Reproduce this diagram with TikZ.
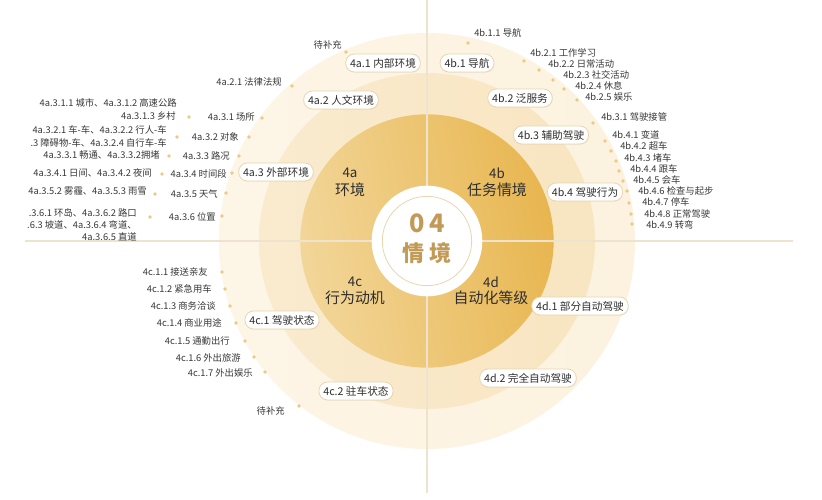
\documentclass[tikz,border=0pt]{standalone}
\usepackage{fontspec}
\setmainfont{Noto Sans CJK SC}
\usetikzlibrary{shadows}
\definecolor{outerband}{HTML}{FDF5E6}
\definecolor{outerbandR}{HTML}{FCF2DF}
\definecolor{midband}{HTML}{FAEBCF}
\definecolor{midbandR}{HTML}{F8E5C1}
\definecolor{goldL}{HTML}{F2D699}
\definecolor{goldR}{HTML}{E8B650}
\definecolor{axisc}{HTML}{EEE3CF}
\definecolor{dotc}{HTML}{E9CB84}
\definecolor{leaftxt}{HTML}{383838}
\definecolor{pillborder}{HTML}{E6D7B2}
\definecolor{pilltxt}{HTML}{2E2E2E}
\definecolor{centretxt}{HTML}{C29A55}
\definecolor{thinring}{HTML}{E9D6AE}
\begin{document}
\begin{tikzpicture}[x=0.75pt,y=-0.75pt,
  leafR/.style={anchor=east, font=\fontsize{7}{9}\selectfont, text=leaftxt, inner sep=0pt, align=right},
  leafL/.style={anchor=west, font=\fontsize{7}{9}\selectfont, text=leaftxt, inner sep=0pt},
  dotn/.style={circle, fill=dotc, draw=none, minimum size=2.8pt, inner sep=0pt},
  pill/.style={rounded corners=6.5pt, draw=pillborder, fill=white, line width=0.6pt,
    font=\fontsize{8}{9.5}\selectfont, minimum height=13.5pt, inner xsep=3.3pt, inner ysep=0pt,
    text=pilltxt, drop shadow={opacity=0.08, shadow xshift=0.4pt, shadow yshift=-0.6pt}},
  quadnum/.style={font=\fontsize{10}{12}\selectfont, text=pilltxt, inner sep=0pt},
  quadtxt/.style={font=\fontsize{11.2}{13}\selectfont, text=pilltxt, inner sep=0pt},
  axisline/.style={draw=axisc, line width=0.8pt}
]
\useasboundingbox (0,0) rectangle (822,500);
\fill[white] (0,0) rectangle (822,500);
% rings
\shade[left color=outerband, right color=outerbandR] (427,241) circle[radius=156pt];
\shade[left color=midband, right color=midbandR] (427,241) circle[radius=126pt];
\shade[left color=goldL, right color=goldR, shading angle=100] (427,241) circle[radius=95pt];
% axes
\coordinate (vtop) at (427,0);
\coordinate (vbot) at (427,493);
\coordinate (hl) at (25,241);
\coordinate (hr) at (793,241);
\draw[axisline] (vtop) -- (vbot);
\draw[axisline] (hl) -- (hr);
% centre
\fill[white] (427,241) circle[radius=41.5pt];
\draw[thinring, line width=0.6pt] (427,241) circle[radius=33.5pt];
\node[font=\fontsize{19}{20}\bfseries\selectfont, text=centretxt, inner sep=0pt] (c04) at (427,223) {0\hspace{3.5pt}4};
\node[font=\fontsize{16.5}{18}\bfseries\selectfont, text=centretxt, inner sep=0pt] (cqj) at (427,253) {情\hspace{4pt}境};
% quadrant labels
\node[quadnum] (q4a) at (350,173) {4a};
\node[quadtxt] (q4at) at (350,190) {环境};
\node[quadnum] (q4b) at (497,173) {4b};
\node[quadtxt] (q4bt) at (497,190) {任务情境};
\node[quadnum] (q4c) at (355,282) {4c};
\node[quadtxt] (q4ct) at (355,298) {行为动机};
\node[quadnum] (q4d) at (491,282) {4d};
\node[quadtxt] (q4dt) at (491,298) {自动化等级};
% pills
\node[pill] (a1) at (383,63) {4a.1 内部环境};
\node[pill] (b1) at (467,63) {4b.1 导航};
\node[pill] (a2) at (341,100) {4a.2 人文环境};
\node[pill] (b2) at (520,98) {4b.2 泛服务};
\node[pill] (a3) at (276,172) {4a.3 外部环境};
\node[pill] (b3) at (551,135) {4b.3 辅助驾驶};
\node[pill] (b4) at (585,192) {4b.4 驾驶行为};
\node[pill] (c1) at (282,320) {4c.1 驾驶状态};
\node[pill] (c2) at (356,391) {4c.2 驻车状态};
\node[pill] (d1) at (580,306) {4d.1 部分自动驾驶};
\node[pill] (d2) at (528,378) {4d.2 完全自动驾驶};
% 4a leaves
\node[dotn] (a1d) at (346,52) {};
\node[leafR] (a1t) at (342,45) {待补充};
\node[dotn] (a21d) at (292,86) {};
\node[leafR] (a21t) at (282,82) {4a.2.1 法律法规};
\node[dotn] (a31d) at (262,118) {};
\node[leafR] (a31t) at (255,117) {4a.3.1 场所};
\node[dotn] (a32d) at (249,137) {};
\node[leafR] (a32t) at (239,137) {4a.3.2 对象};
\node[dotn] (a33d) at (239,156) {};
\node[leafR] (a33t) at (230,156) {4a.3.3 路况};
\node[dotn] (a34d) at (232,173) {};
\node[leafR] (a34t) at (227,174) {4a.3.4 时间段};
\node[dotn] (a35d) at (226,193) {};
\node[leafR] (a35t) at (218,194) {4a.3.5 天气};
\node[dotn] (a36d) at (222,216) {};
\node[leafR] (a36t) at (216,217) {4a.3.6 位置};
% 4a third-level
\node[dotn] (a31xd) at (189,117) {};
\node[leafR] (a311t) at (177,103) {4a.3.1.1 城市、4a.3.1.2 高速公路};
\node[leafR] (a313t) at (176,116) {4a.3.1.3 乡村};
\node[dotn] (a32xd) at (177,137) {};
\node[leafR] (a321t) at (167,130) {4a.3.2.1 车-车、4a.3.2.2 行人-车};
\node[leafR] (a323t) at (167,143) {.3 障碍物-车、4a.3.2.4 自行车-车};
\node[dotn] (a33xd) at (169,156) {};
\node[leafR] (a33xt) at (160,155) {4a.3.3.1 畅通、4a.3.3.2拥堵};
\node[dotn] (a34xd) at (162,174) {};
\node[leafR] (a34xt) at (152,173) {4a.3.4.1 日间、4a.3.4.2 夜间};
\node[dotn] (a35xd) at (155,194) {};
\node[leafR] (a35xt) at (147,191) {4a.3.5.2 雾霾、4a.3.5.3 雨雪};
\node[dotn] (a36xd) at (150,217) {};
\node[leafR] (a36xt) at (137,225) {.3.6.1 环岛、4a.3.6.2 路口\\.6.3 坡道、4a.3.6.4 弯道、\\4a.3.6.5 直道};
% 4b leaves
\node[dotn] (b11d) at (468,43) {};
\node[leafL] (b11t) at (474,33) {4b.1.1 导航};
\node[dotn] (b21d) at (524,61) {};
\node[leafL] (b21t) at (530,53) {4b.2.1 工作学习};
\node[dotn] (b22d) at (539,70) {};
\node[leafL] (b22t) at (548,64) {4b.2.2 日常活动};
\node[dotn] (b23d) at (553,80) {};
\node[leafL] (b23t) at (563,75) {4b.2.3 社交活动};
\node[dotn] (b24d) at (564,89) {};
\node[leafL] (b24t) at (575,86) {4b.2.4 休息};
\node[dotn] (b25d) at (577,100) {};
\node[leafL] (b25t) at (585,97) {4b.2.5 娱乐};
\node[dotn] (b31d) at (593,123) {};
\node[leafL] (b31t) at (601,117) {4b.3.1 驾驶接管};
\node[dotn] (b41d) at (605,141) {};
\node[leafL] (b41t) at (612,135) {4b.4.1 变道};
\node[dotn] (b42d) at (611,151) {};
\node[leafL] (b42t) at (620,146) {4b.4.2 超车};
\node[dotn] (b43d) at (616,161) {};
\node[leafL] (b43t) at (624,158) {4b.4.3 堵车};
\node[dotn] (b44d) at (619,171) {};
\node[leafL] (b44t) at (630,169) {4b.4.4 跟车};
\node[dotn] (b45d) at (623,181) {};
\node[leafL] (b45t) at (633,180) {4b.4.5 会车};
\node[dotn] (b46d) at (627,191) {};
\node[leafL] (b46t) at (638,191) {4b.4.6 检查与起步};
\node[dotn] (b47d) at (629,203) {};
\node[leafL] (b47t) at (642,202) {4b.4.7 停车};
\node[dotn] (b48d) at (631,214) {};
\node[leafL] (b48t) at (644,214) {4b.4.8 正常驾驶};
\node[dotn] (b49d) at (632,224) {};
\node[leafL] (b49t) at (646,225) {4b.4.9 转弯};
% 4c leaves
\node[dotn] (c11d) at (222,272) {};
\node[leafR] (c11t) at (208,272) {4c.1.1 接送亲友};
\node[dotn] (c12d) at (225,289) {};
\node[leafR] (c12t) at (212,289) {4c.1.2 紧急用车};
\node[dotn] (c13d) at (230,306) {};
\node[leafR] (c13t) at (216,306) {4c.1.3 商务洽谈};
\node[dotn] (c14d) at (236,323) {};
\node[leafR] (c14t) at (222,323) {4c.1.4 商业用途};
\node[dotn] (c15d) at (245,341) {};
\node[leafR] (c15t) at (230,341) {4c.1.5 通勤出行};
\node[dotn] (c16d) at (254,357) {};
\node[leafR] (c16t) at (241,358) {4c.1.6 外出旅游};
\node[dotn] (c17d) at (265,372) {};
\node[leafR] (c17t) at (253,373) {4c.1.7 外出娱乐};
\node[dotn] (c2d) at (299,406) {};
\node[leafR] (c2t) at (285,411) {待补充};
\end{tikzpicture}
\end{document}
